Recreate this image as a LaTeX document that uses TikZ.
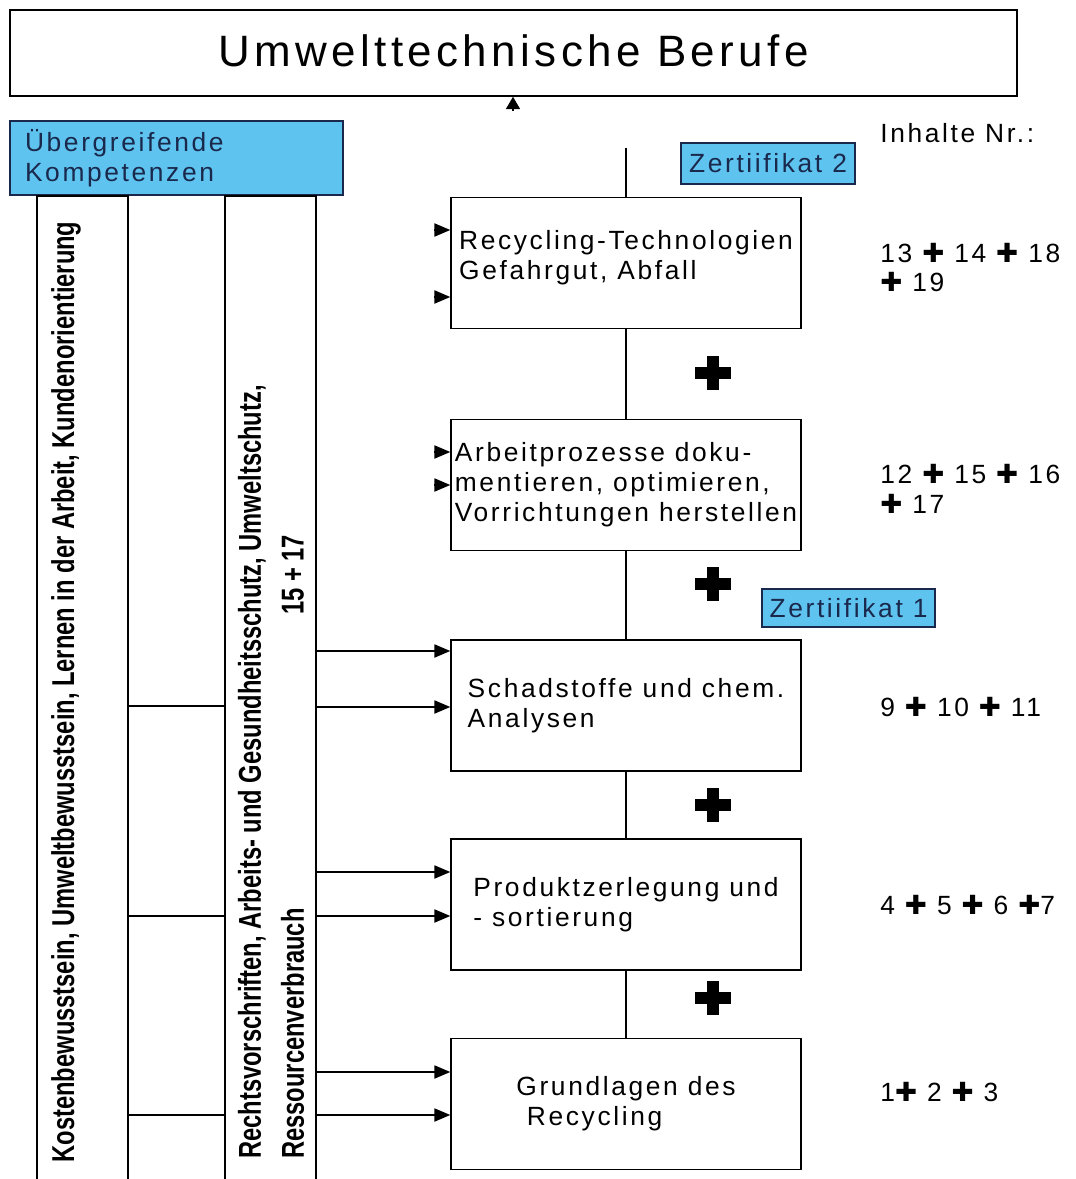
\documentclass[tikz,border=0pt]{standalone}
\usepackage{fontspec}
\setmainfont{Liberation Sans}[LetterSpace=10]
\newfontfamily\narrowfont{Liberation Sans}[FakeStretch=0.75]
\newfontfamily\symfont{DejaVu Sans}
\usetikzlibrary{arrows.meta}
\usetikzlibrary{calc}
\definecolor{kompblue}{RGB}{95,195,240}
\definecolor{kompnavy}{RGB}{25,40,75}
\newcommand{\pl}{{\symfont ✚}}

\begin{document}
\begin{tikzpicture}[x=0.02cm, y=-0.02cm,
  stufe/.style={draw, line width=0.9pt, minimum width=7cm, minimum height=2.62cm, align=left, inner sep=0pt, font=\fontsize{15}{17}\selectfont},
  zert/.style={draw=kompnavy, fill=kompblue, text=kompnavy, line width=0.9pt, inner sep=0pt, font=\fontsize{15}{17}\selectfont},
  saeule/.style={draw, line width=0.9pt, minimum width=1.82cm, minimum height=20cm, anchor=north},
  senkrecht/.style={rotate=90, align=left, inner sep=0pt, font=\narrowfont\bfseries\fontsize{18}{24.5}\selectfont},
  nr/.style={anchor=west, align=left, inner sep=0pt, font=\fontsize{15}{17}\selectfont},
  pfeil/.style={-{Triangle[length=9pt,width=7.5pt]}, line width=0.7pt}]
  \useasboundingbox (0,0) rectangle (1075,1179);

  % Kopf
  \node[draw, line width=0.9pt, minimum width=20.14cm, minimum height=1.72cm, font=\fontsize{25}{30}\selectfont] (berufe) at (513.5,53) {\raisebox{3pt}{Umwelttechnische Berufe}};
  \coordinate (spitze) at (513,111);
  \draw[-{Triangle[length=7pt,width=8pt]}, line width=0.7pt] (spitze) -- (berufe.south -| spitze);

  % linke Seite
  \node[zert, minimum width=6.66cm, minimum height=1.48cm, text width=6.06cm, align=left] (komp) at (176.5,158) {Übergreifende\\Kompetenzen};
  \node[saeule] (kosten) at (82.5,195) {};
  \node[saeule] (recht) at (270.5,195) {};
  \node[senkrecht] (kostentext) at (66,692) {Kostenbewusstsein, Umweltbewusstsein, Lernen in der Arbeit, Kundenorientierung};
  \node[senkrecht] (rechttext) at (271,772) {Rechtsvorschriften, Arbeits- und Gesundheitsschutz, Umweltschutz,\\Ressourcenverbrauch};
  \node[senkrecht] (rechtnr) at (293,575) {15 + 17};
  \foreach \y in {706,916,1115}
    \draw[line width=0.7pt] (kosten.east |- 0,\y) -- (recht.west |- 0,\y);

  % Stufen
  \node[stufe] (recyc) at (626,263) {Recycling-Technologien\\Gefahrgut, Abfall\\[-8pt]};
  \node[stufe] (arbeit) at (626,485) {Arbeitprozesse doku-\\mentieren, optimieren,\\Vorrichtungen herstellen};
  \node[stufe] (schad) at (626,705.5) {Schadstoffe und chem.\\Analysen};
  \node[stufe] (produkt) at (626,904.5) {Produktzerlegung und\\- sortierung};
  \node[stufe] (grund) at (626,1104) {Grundlagen des\\\hspace*{6pt}Recycling};
  \coordinate (oben) at (626,148);
  \draw[line width=0.7pt] (oben) -- (recyc);
  \foreach \a/\b in {recyc/arbeit, arbeit/schad, schad/produkt, produkt/grund}
    \draw[line width=0.7pt] (\a) -- (\b);

  % Pfeile
  \foreach \b/\ya/\yb in {schad/651/707, produkt/872/916, grund/1072/1115} {
    \draw[pfeil] (recht.east |- 0,\ya) -- (\b.west |- 0,\ya);
    \draw[pfeil] (recht.east |- 0,\yb) -- (\b.west |- 0,\yb);
  }
  \foreach \b/\ya/\yb in {recyc/230/297, arbeit/452/485} {
    \draw[pfeil] ($(\b.west |- 0,\ya)+(-16,0)$) -- (\b.west |- 0,\ya);
    \draw[pfeil] ($(\b.west |- 0,\yb)+(-16,0)$) -- (\b.west |- 0,\yb);
  }

  % Plus
  \foreach \y in {373,584,805,998} {
    \fill (713-18,\y-6) rectangle (713+18,\y+6);
    \fill (713-6,\y-17) rectangle (713+6,\y+17);
  }

  % Zertifikate
  \node[zert, minimum width=3.48cm, minimum height=0.82cm] (zert2) at (768,163.5) {Zertiifikat 2};
  \node[zert, minimum width=3.46cm, minimum height=0.76cm] (zert1) at (848.5,608) {Zertiifikat 1};

  % Inhalte
  \node[nr] (inhalte) at (880,133) {Inhalte Nr.:};
  \node[nr] (nr1) at (880,267.5) {13 \pl{} 14 \pl{} 18\\\pl{} 19};
  \node[nr] (nr2) at (880,489) {12 \pl{} 15 \pl{} 16\\\pl{} 17};
  \node[nr] (nr3) at (880,707) {9 \pl{} 10 \pl{} 11};
  \node[nr] (nr4) at (880,905) {4 \pl{} 5 \pl{} 6 \pl{}7};
  \node[nr] (nr5) at (880,1092) {1\pl{} 2 \pl{} 3};
\end{tikzpicture}
\end{document}
